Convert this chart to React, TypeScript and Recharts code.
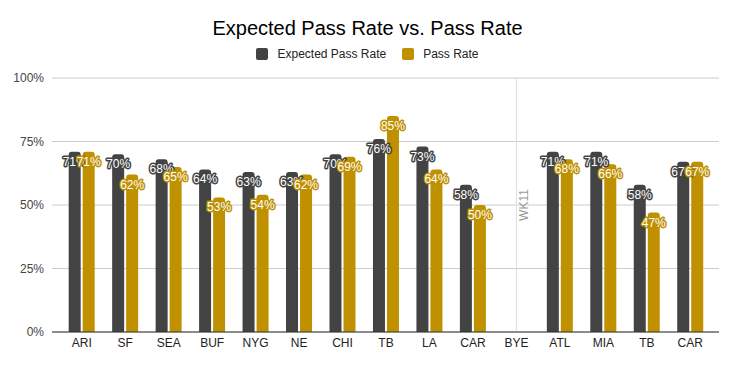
import React from 'react';
import { BarChart, Bar, XAxis, YAxis, CartesianGrid, ReferenceLine } from 'recharts';

const categories = ['ARI', 'SF', 'SEA', 'BUF', 'NYG', 'NE', 'CHI', 'TB', 'LA', 'CAR', 'BYE', 'ATL', 'MIA', 'TB ', 'CAR '];
const expectedPassRate: (number | null)[] = [0.71, 0.70, 0.68, 0.64, 0.63, 0.63, 0.70, 0.76, 0.73, 0.58, null, 0.71, 0.71, 0.58, 0.67];
const passRate: (number | null)[] = [0.71, 0.62, 0.65, 0.53, 0.54, 0.62, 0.69, 0.85, 0.64, 0.50, null, 0.68, 0.66, 0.47, 0.67];
const yTicks = [0, 0.25, 0.5, 0.75, 1];
const seriesNames = ['Expected Pass Rate', 'Pass Rate'];
const colors = ['#434343', '#bf9000'];
const byeLabel = 'WK11';

const data = categories.map((c, i) => ({ cat: c, exp: expectedPassRate[i], pass: passRate[i] }));

const FONT = '"Liberation Sans", Arial, sans-serif';

const makeLabel = (stroke: string) => (props: any) => {
  const vb = props.viewBox || {};
  const x = props.x ?? vb.x;
  const y = props.y ?? vb.y;
  const width = props.width ?? vb.width;
  const value = props.value;
  if (value == null || x == null) return null;
  return (
    <text
      x={x + width / 2}
      y={y + 5}
      dy="0.75em"
      textAnchor="middle"
      fontSize={12}
      fontFamily={FONT}
      fill="#ffffff"
      stroke={stroke}
      strokeWidth={3}
      strokeLinejoin="round"
      paintOrder="stroke"
    >
      {Math.round(value * 100) + '%'}
    </text>
  );
};

const byeLabelRender = (props: any) => {
  const vb = props.viewBox || {};
  const cx = vb.x + 8;
  const cy = vb.y + vb.height / 2;
  return (
    <text
      x={cx}
      y={cy}
      textAnchor="middle"
      dominantBaseline="central"
      fontSize={12}
      fontFamily={FONT}
      fill="#999999"
      transform={`rotate(-90, ${cx}, ${cy})`}
    >
      {byeLabel}
    </text>
  );
};

export default function App() {
  return (
    <div style={{ position: 'absolute', left: 0, top: 0, width: 735, height: 365, background: '#fff', fontFamily: FONT }}>
      <div style={{ position: 'absolute', left: 0, top: 16, width: 735, textAlign: 'center', fontSize: 20, lineHeight: '24px', color: '#000' }}>
        Expected Pass Rate vs. Pass Rate
      </div>
      <div style={{ position: 'absolute', left: 0, top: 47, width: 735, display: 'flex', justifyContent: 'center', alignItems: 'center', fontSize: 12, lineHeight: '14px', color: '#222' }}>
        {seriesNames.map((n, i) => (
          <div key={n} style={{ display: 'flex', alignItems: 'center', marginRight: i === 0 ? 16 : 0 }}>
            <div style={{ width: 12, height: 12, borderRadius: 2, background: colors[i], marginRight: 9 }} />
            <span>{n}</span>
          </div>
        ))}
      </div>
      <div style={{ position: 'absolute', left: 0, top: 0 }}>
        <BarChart
          width={735}
          height={365}
          data={data}
          margin={{ top: 78, right: 16, bottom: 3, left: 0 }}
          barCategoryGap="20%"
          barGap={2}
        >
          <CartesianGrid vertical={false} stroke="#cccccc" />
          <XAxis
            dataKey="cat"
            height={30}
            tickLine={false}
            tickSize={4}
            axisLine={{ stroke: '#333333' }}
            tick={{ fontSize: 12, fill: '#222222', fontFamily: FONT }}
            padding={{ left: 8, right: 7 }}
            interval={0}
            tickFormatter={(v: string) => v.trim()}
          />
          <YAxis
            width={52}
            domain={[0, 1]}
            ticks={yTicks}
            tickLine={false}
            axisLine={false}
            tick={{ fontSize: 12, fill: '#444444', fontFamily: FONT }}
            tickFormatter={(v: number) => Math.round(v * 100) + '%'}
          />
          <ReferenceLine x="BYE" stroke="#dddddd" strokeWidth={1} label={byeLabelRender} />
          <Bar dataKey="exp" name={seriesNames[0]} fill={colors[0]} radius={[3, 3, 0, 0]} isAnimationActive={false} label={makeLabel(colors[0])} />
          <Bar dataKey="pass" name={seriesNames[1]} fill={colors[1]} radius={[3, 3, 0, 0]} isAnimationActive={false} label={makeLabel(colors[1])} />
        </BarChart>
      </div>
    </div>
  );
}
